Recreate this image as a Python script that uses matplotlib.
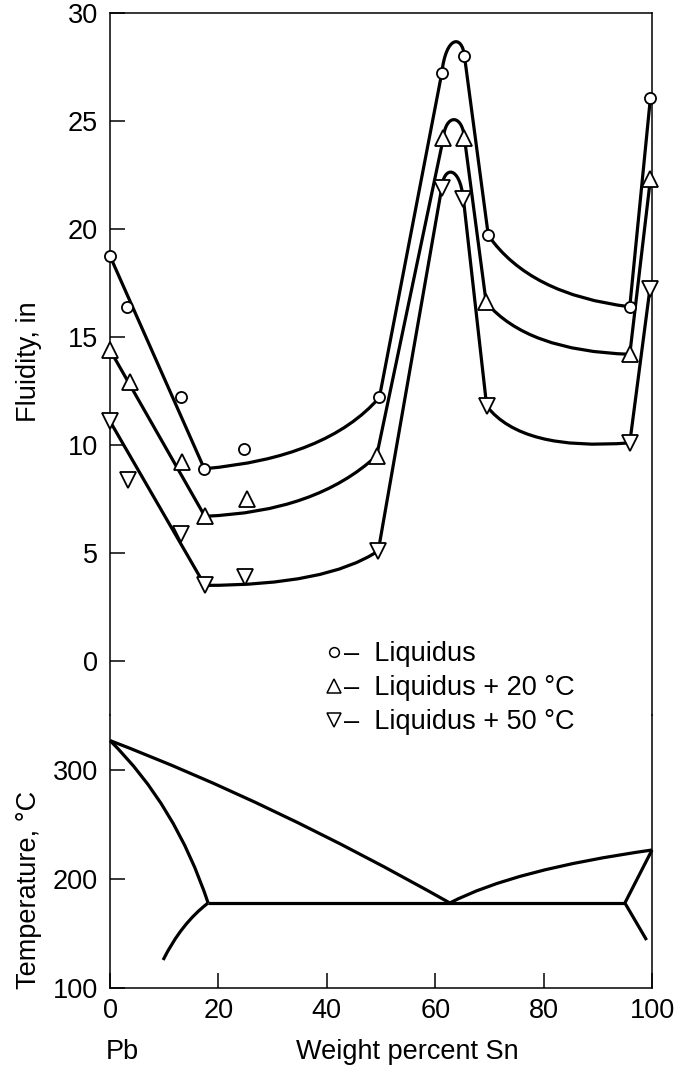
import numpy as np
import matplotlib
matplotlib.use("Agg")
import matplotlib.pyplot as plt
from matplotlib.path import Path
from matplotlib.patches import PathPatch
from matplotlib.lines import Line2D

plt.rcParams['font.family'] = ['Liberation Sans', 'DejaVu Sans']

# ---------------- data ----------------
# measured fluidity points (wt% Sn, fluidity in inches)
liq_x = [0, 3.2, 13.1, 17.4, 24.8, 49.7, 61.2, 65.4, 69.8, 95.9, 99.7]
liq_y = [18.75, 16.4, 12.2, 8.9, 9.8, 12.2, 27.2, 28.0, 19.7, 16.4, 26.05]
l20_x = [0, 3.6, 13.2, 17.5, 25.3, 49.2, 61.5, 65.4, 69.4, 95.9, 99.7]
l20_y = [14.4, 12.9, 9.2, 6.7, 7.5, 9.5, 24.2, 24.2, 16.6, 14.2, 22.3]
l50_x = [0, 3.4, 13.1, 17.5, 24.9, 49.5, 61.2, 65.2, 69.5, 95.9, 99.6]
l50_y = [11.1, 8.4, 5.9, 3.5, 3.9, 5.1, 21.9, 21.4, 11.8, 10.1, 17.2]

# hand-drawn fit curves, piece by piece:
# 2 points = straight, 3 = start/control/end (quadratic), 4 = cubic
liq_curve = [
    [(0, 18.75), (17.4, 8.9)],
    [(17.4, 8.9), (40, 9.4), (49.7, 12.2)],
    [(49.7, 12.2), (61.2, 27.2)],
    [(61.2, 27.2), (62.0, 29.0), (65.0, 29.0), (65.4, 28.0)],
    [(65.4, 28.0), (69.8, 19.7)],
    [(69.8, 19.7), (77.5, 16.95), (95.9, 16.4)],
    [(95.9, 16.4), (99.7, 26.05)],
]
l20_curve = [
    [(0, 14.4), (17.5, 6.7)],
    [(17.5, 6.7), (38, 6.9), (49.2, 9.5)],
    [(49.2, 9.5), (61.5, 24.2)],
    [(61.5, 24.2), (61.9, 25.35), (65.0, 25.35), (65.4, 24.2)],
    [(65.4, 24.2), (69.4, 16.6)],
    [(69.4, 16.6), (77, 14.35), (95.9, 14.2)],
    [(95.9, 14.2), (99.7, 22.3)],
]
l50_curve = [
    [(0, 11.1), (17.5, 3.5)],
    [(17.5, 3.5), (40, 3.5), (49.5, 5.1)],
    [(49.5, 5.1), (61.2, 21.9)],
    [(61.2, 21.9), (61.6, 22.95), (64.5, 22.95), (65.2, 21.4)],
    [(65.2, 21.4), (69.5, 11.8)],
    [(69.5, 11.8), (76, 9.7), (95.9, 10.1)],
    [(95.9, 10.1), (99.6, 17.2)],
]

# Pb-Sn phase diagram (wt% Sn, temperature C), same piece convention
pb_liquidus = [[(0, 327), (30, 270), (62.7, 178)]]
pb_solidus = [[(0, 327), (12.13, 267.6), (18.1, 178)]]
pb_solvus = [[(18.1, 178), (13.15, 159.2), (9.8, 125.7)]]
eutectic = [[(18.1, 178), (95, 178)]]
sn_liquidus = [[(62.7, 178), (74.5, 208.7), (100, 226.6)]]
sn_solidus = [[(95, 178), (100, 226.6)]]
sn_solvus = [[(95, 178), (99, 144)]]

fluid_ticks = [0, 5, 10, 15, 20, 25, 30]
temp_ticks = [100, 200, 300]
x_ticks = [0, 20, 40, 60, 80, 100]
legend_labels = ['–  Liquidus', '–  Liquidus + 20 °C', '–  Liquidus + 50 °C']


def piece_path(pieces):
    verts, codes = [], []
    for k, pts in enumerate(pieces):
        if k == 0:
            verts.append(pts[0]); codes.append(Path.MOVETO)
        rest = list(pts[1:])
        code = {1: Path.LINETO, 2: Path.CURVE3, 3: Path.CURVE4}[len(rest)]
        verts += rest
        codes += [code] * len(rest)
    return Path(verts, codes)


W, H = 677, 1065
fig = plt.figure(figsize=(W / 100, H / 100), dpi=100)

left, right = 110, 652
top, split, bottom = 13, 715, 988
axF = fig.add_axes([left / W, 1 - split / H, (right - left) / W, (split - top) / H])
axT = fig.add_axes([left / W, 1 - bottom / H, (right - left) / W, (bottom - split) / H])

# fluidity axis: 30 at y=13, 0 at y=661
fpx = (661 - 13) / 30.0
axF.set_ylim(-(split - 661) / fpx, 30)
axF.set_xlim(0, 100)
# temperature axis: 300 at 770, 100 at 988
tpx = (988 - 770) / 200.0
axT.set_ylim(100, 100 + (bottom - split) / tpx)
axT.set_xlim(0, 100)

LW = 2.3
for curve in (liq_curve, l20_curve, l50_curve):
    axF.add_patch(PathPatch(piece_path(curve), fill=False, lw=LW, ec='black',
                            joinstyle='round', capstyle='round', zorder=3, clip_on=False))

mk = dict(ls='none', mfc='white', mec='black', mew=1.3, zorder=5, clip_on=False)
axF.plot(liq_x, liq_y, marker='o', ms=8, **mk)
axF.plot(l20_x, l20_y, marker='^', ms=11, **mk)
axF.plot(l50_x, l50_y, marker='v', ms=11, **mk)

for seg in (pb_liquidus, pb_solidus, pb_solvus, sn_liquidus, eutectic, sn_solidus, sn_solvus):
    axT.add_patch(PathPatch(piece_path(seg), fill=False, lw=LW, ec='black',
                            joinstyle='round', capstyle='butt', zorder=3, clip_on=False))

FS = 19.5
for ax in (axF, axT):
    for s in ax.spines.values():
        s.set_linewidth(1.1)
    ax.patch.set_visible(False)
axF.spines['bottom'].set_visible(False)
axT.spines['top'].set_visible(False)

axF.set_xticks([])
axF.set_yticks(fluid_ticks)
axF.set_yticklabels([str(v) for v in fluid_ticks])
axF.tick_params(axis='y', direction='in', length=11, width=1.1, pad=8.5, labelsize=FS)

axT.set_yticks(temp_ticks)
axT.set_yticklabels([str(v) for v in temp_ticks])
axT.tick_params(axis='y', direction='in', length=11, width=1.1, pad=8.5, labelsize=FS)
axT.set_xticks(x_ticks)
axT.set_xticklabels([str(v) for v in x_ticks])
axT.tick_params(axis='x', direction='in', length=11, width=1.1, pad=7, labelsize=FS)

fig.text(29 / W, 1 - 362 / H, 'Fluidity, in', rotation=90, ha='center', va='center', fontsize=FS)
fig.text(29 / W, 1 - 890 / H, 'Temperature, °C', rotation=90, ha='center', va='center', fontsize=FS)
fig.text(106 / W, 1 - 1059 / H, 'Pb', ha='left', va='baseline', fontsize=FS)
fig.text(296 / W, 1 - 1059 / H, 'Weight percent Sn', ha='left', va='baseline', fontsize=FS)

handles = [Line2D([], [], marker=m, ms=s, ls='none', mfc='white', mec='black', mew=1.1)
           for m, s in (('o', 7), ('^', 10), ('v', 10))]
fig.legend(handles, legend_labels, loc='upper left', bbox_to_anchor=(326 / W, 1 - 641 / H),
           frameon=False, fontsize=FS, handlelength=0.6, handletextpad=0.05,
           labelspacing=0.3, borderpad=0, borderaxespad=0)

fig.savefig('out.png', dpi=100)
